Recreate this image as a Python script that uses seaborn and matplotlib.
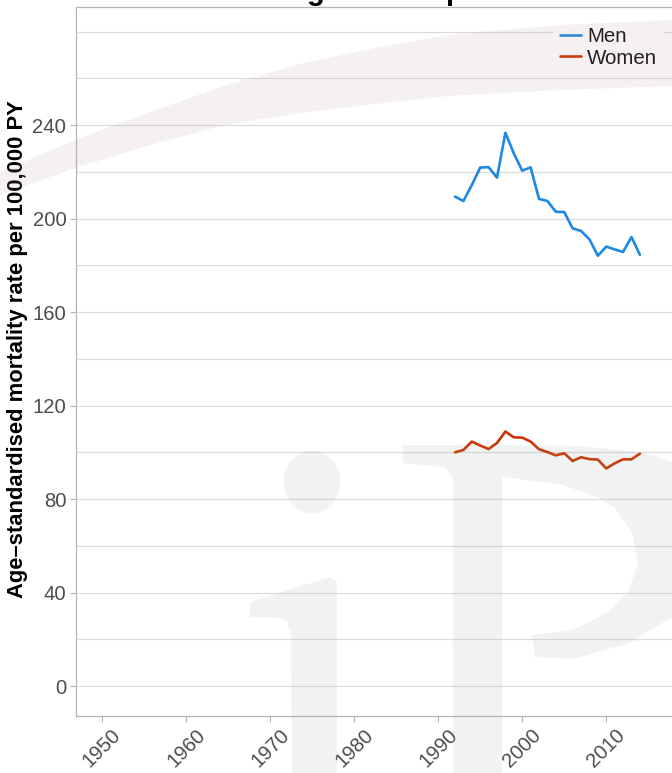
import numpy as np
import pandas as pd
import matplotlib
matplotlib.use("Agg")
import matplotlib.pyplot as plt
import seaborn as sns
from matplotlib.patches import Polygon, Ellipse
from matplotlib.ticker import MultipleLocator, FixedLocator

# ---------------- data ----------------
years = list(range(1992, 2015))
men = [209.4, 207.5, 214.3, 221.8, 222.0, 217.5, 236.7, 227.9, 220.5, 221.9,
       208.4, 207.5, 202.9, 202.8, 195.8, 194.7, 191.1, 184.1, 188.0, 186.8,
       185.7, 192.1, 184.5]
women = [100.0, 101.0, 104.6, 102.9, 101.4, 104.0, 108.9, 106.4, 106.3, 104.6,
         101.3, 100.1, 98.7, 99.6, 96.3, 97.9, 97.1, 96.9, 93.1, 95.3,
         97.0, 97.0, 99.4]
sexes = ["Men", "Women"]
x_ticks = [1950, 1960, 1970, 1980, 1990, 2000, 2010]
y_ticks = [0, 40, 80, 120, 160, 200, 240]
title = "Malignant neoplasms"
ylabel = "Age\u2013standardised mortality rate per 100,000 PY"

df = pd.DataFrame({
    "Year": years * 2,
    "Rate": men + women,
    "Sex": ["Men"] * len(years) + ["Women"] * len(years),
})

# ---------------- style ----------------
sns.set_theme(style="white")
plt.rcParams["font.family"] = ["Liberation Sans", "DejaVu Sans"]

W, H = 672, 773
fig = plt.figure(figsize=(W / 100, H / 100), dpi=100)
fig.patch.set_facecolor("white")

ax_l, ax_r, ax_t, ax_b = 76, 718, 7, 716
ax = fig.add_axes([ax_l / W, (H - ax_b) / H, (ax_r - ax_l) / W, (ax_b - ax_t) / H])
ax.set_facecolor("none")

palette = {"Men": "#1E88E5", "Women": "#CC3300"}
sns.lineplot(data=df, x="Year", y="Rate", hue="Sex", hue_order=sexes,
             palette=palette, linewidth=1.9, ax=ax, legend=True)

ax.set_xlim(1946.9, 2023.3)
ax.set_ylim(-12.8, 290.5)
ax.set_xticks(x_ticks)
ax.set_xticklabels([str(t) for t in x_ticks], rotation=45, ha="center")
ax.set_yticks(y_ticks)
ax.set_yticklabels([str(t) for t in y_ticks])
ax.yaxis.set_minor_locator(MultipleLocator(20))

ax.yaxis.grid(True, which="both", color="#dcdcdc", linewidth=0.9)
ax.xaxis.grid(False)
ax.set_axisbelow(True)

for side in ["left", "bottom", "top"]:
    ax.spines[side].set_visible(True)
    ax.spines[side].set_color("#b5b5b5")
    ax.spines[side].set_linewidth(0.9)
ax.spines["right"].set_visible(False)

ax.tick_params(axis="both", which="major", length=4, width=0.8, color="#b5b5b5",
               labelcolor="#4d4d4d", labelsize=14.6, pad=3,
               left=True, bottom=True)
ax.tick_params(axis="both", which="minor", length=0)
ax.set_xlabel("")
ax.set_ylabel("")

fig.text(18 / W, 1 - 349 / H, ylabel, rotation=90, ha="center", va="center",
         fontsize=15.8, fontweight="bold", color="black")

fig.text(250 / W, 1 - 0.5 / H, title, ha="left", va="baseline",
         fontsize=21, fontweight="bold", color="black")

handles, labels = ax.get_legend_handles_labels()
leg = ax.legend(handles, labels, loc="upper left",
                bbox_to_anchor=(553 / W, 1 - 20 / H), bbox_transform=fig.transFigure,
                frameon=True, facecolor="white", edgecolor="none", framealpha=1,
                fancybox=False, fontsize=14.8, handlelength=1.0, handletextpad=0.3,
                labelspacing=0.12, borderpad=0.35, borderaxespad=0)
for t in leg.get_texts():
    t.set_color("#111111")
for l in leg.get_lines():
    l.set_linewidth(1.9)

# ---------------- watermark overlay ----------------
ov = fig.add_axes([0, 0, 1, 1], zorder=10)
ov.set_xlim(0, W)
ov.set_ylim(H, 0)
ov.axis("off")
ov.patch.set_alpha(0)

a = 0.12
pink = "#b48a93"
gray = "#93a39b"
upper = [(0, 172), (75, 140), (150, 112), (224, 86), (300, 64), (375, 48),
         (448, 35), (560, 25), (672, 20)]
lower = [(672, 86), (560, 90), (448, 96), (375, 104), (300, 113), (224, 125),
         (150, 145), (75, 168), (0, 195)]
ov.add_patch(Polygon(upper + lower, closed=True, facecolor=pink, alpha=a,
                     edgecolor="none"))

i_stem = [(250, 602), (330, 577), (337, 582), (337, 773), (292, 773), (291, 635),
          (287, 622), (280, 618), (250, 617)]
ov.add_patch(Polygon(i_stem, closed=True, facecolor=gray, alpha=a, edgecolor="none"))
ov.add_patch(Ellipse((312, 482), 57, 63, facecolor=gray, alpha=a, edgecolor="none"))

P = [(403, 445), (502, 445), (580, 446), (640, 452), (672, 462), (705, 490),
     (722, 540), (710, 590), (672, 617), (630, 643), (573, 659), (535, 657),
     (532, 635), (573, 630), (605, 614), (628, 592), (638, 563), (632, 532),
     (615, 508), (597, 497), (560, 484), (502, 477), (502, 773), (453, 773),
     (453, 478), (445, 467), (403, 463)]
ov.add_patch(Polygon(P, closed=True, facecolor=gray, alpha=a, edgecolor="none"))

fig.savefig("out.png", dpi=100)
